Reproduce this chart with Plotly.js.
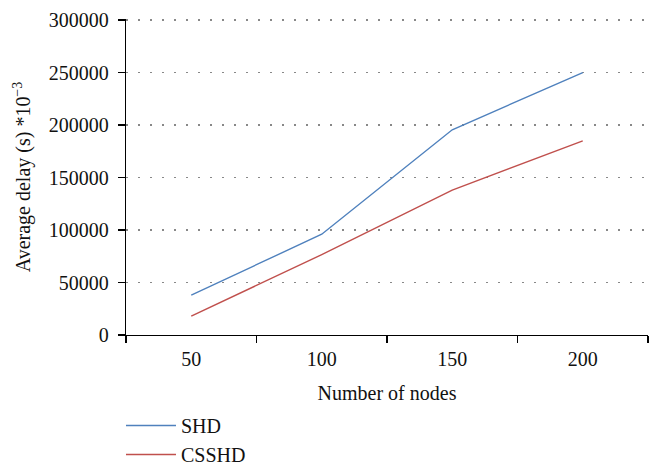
<!DOCTYPE html>
<html>
<head>
<meta charset="utf-8">
<script src="https://cdn.plot.ly/plotly-3.0.1.min.js"></script>
<style>html,body{margin:0;padding:0;background:#fff;}#chart{width:654px;height:464px;}</style>
</head>
<body>
<div id="chart"></div>
<script>
const nodes = ["50", "100", "150", "200"];
const shd = [38000, 96000, 195500, 250000];
const csshd = [18000, 76500, 138000, 185000];

const font = "Liberation Serif, Times New Roman, serif";
const data = [
  {x: nodes, y: shd, type: "scatter", mode: "lines", name: "SHD",
   line: {color: "#4f81bd", width: 1.4}},
  {x: nodes, y: csshd, type: "scatter", mode: "lines", name: "CSSHD",
   line: {color: "#c0504d", width: 1.4}}
];
const layout = {
  width: 654, height: 464,
  margin: {l: 126, r: 6, t: 19, b: 129},
  paper_bgcolor: "#fff", plot_bgcolor: "#fff",
  font: {family: font, size: 20, color: "#111"},
  showlegend: true,
  legend: {x: -0.0096, xanchor: "left", xref: "paper",
           y: 0.125, yanchor: "top", yref: "container",
           orientation: "v", font: {family: font, size: 20, color: "#111"},
           tracegroupgap: 0, itemwidth: 50},
  xaxis: {
    type: "category", range: [-0.5, 3.5], tickson: "boundaries",
    automargin: false,
    showline: true, linecolor: "#000", linewidth: 1.3,
    ticks: "outside", ticklen: 7, tickcolor: "#000", tickwidth: 1.3,
    ticklabelstandoff: 6,
    showgrid: false, zeroline: false,
    tickfont: {family: font, size: 20, color: "#111"},
    title: {text: "Number of nodes", font: {family: font, size: 20}, standoff: 16}
  },
  yaxis: {
    range: [0, 301000], tick0: 0, dtick: 50000, tickformat: "d",
    automargin: false,
    showline: true, linecolor: "#000", linewidth: 1.3,
    ticks: "outside", ticklen: 7, tickcolor: "#000", tickwidth: 1.3,
    ticklabelstandoff: 5,
    showgrid: true, gridcolor: "#888", gridwidth: 1.2, griddash: "2px,10px",
    zeroline: false,
    tickfont: {family: font, size: 20, color: "#111"},
    title: {text: "Average delay (s) *10<sup>−3</sup>", font: {family: font, size: 20}, standoff: 12}
  }
};
Plotly.newPlot("chart", data, layout, {displayModeBar: false, staticPlot: true});
</script>
</body>
</html>
